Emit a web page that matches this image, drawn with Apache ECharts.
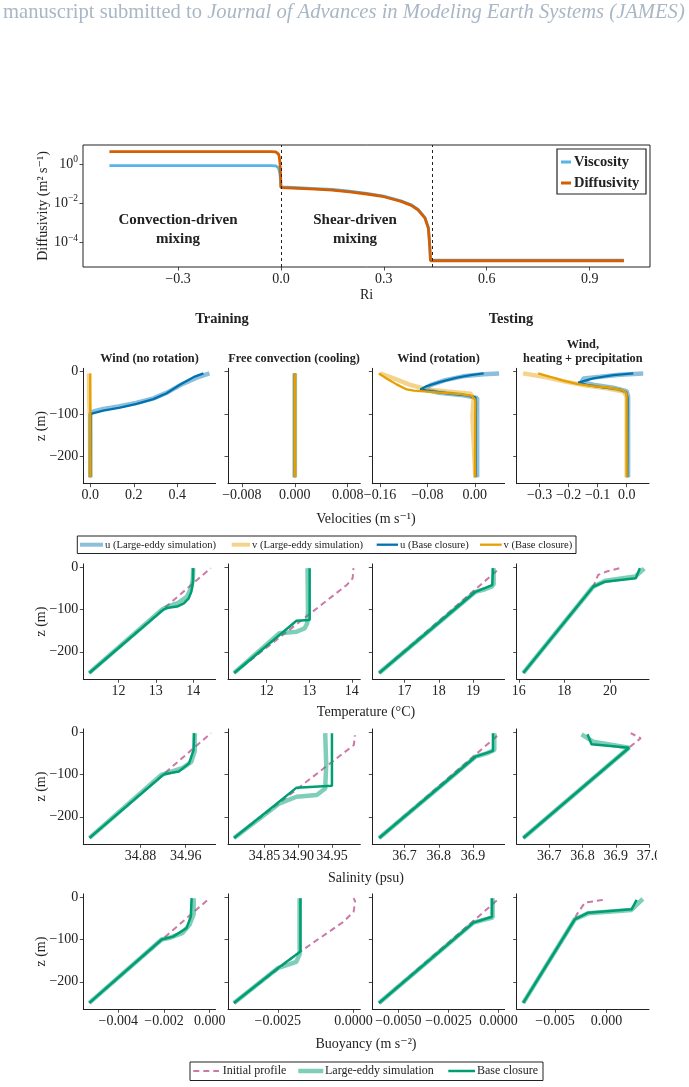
<!DOCTYPE html>
<html>
<head>
<meta charset="utf-8">
<script src="https://cdn.jsdelivr.net/npm/echarts@6/dist/echarts.min.js"></script>
<style>
html, body { margin: 0; padding: 0; background: #fff; }
#chart { width: 689px; height: 1087px; }
</style>
</head>
<body>
<div id="chart"></div>
<script>
// ---- top panel: viscosity / diffusivity vs Ri (log10 of m^2 s^-1) ----
const riConv = [-0.5, -0.03, -0.015, -0.01, -0.007, -0.005, -0.003, -0.0015, -0.0005, 0];
const viscConvLog = [-0.09, -0.09, -0.1, -0.13, -0.2, -0.3, -0.5, -0.8, -1.05, -1.18];
const diffConvLog = [0.63, 0.63, 0.62, 0.58, 0.5, 0.38, 0.1, -0.3, -0.8, -1.21];
const riShear = [0, 0.05, 0.1, 0.15, 0.2, 0.25, 0.3, 0.35, 0.38, 0.4, 0.42, 0.43, 0.434, 0.436, 1.0];
const viscShearLog = [-1.18, -1.22, -1.26, -1.31, -1.4, -1.51, -1.65, -1.89, -2.09, -2.33, -2.75, -3.27, -4.21, -4.93, -4.93];
const diffShearLog = [-1.21, -1.25, -1.29, -1.34, -1.43, -1.54, -1.68, -1.92, -2.12, -2.36, -2.78, -3.3, -4.24, -4.96, -4.96];
const regimeEdges = [0, 0.436];
const riTicks = [-0.3, 0, 0.3, 0.6, 0.9];
const diffTicks = [-4, -2, 0];

// ---- profile panels, one entry per column: [value, z] ----
const panelTitles = ['Wind (no rotation)', 'Free convection (cooling)', 'Wind (rotation)', 'Wind,\nheating + precipitation'];
const zTicks = [0, -100, -200];

const velULes = [
  [[0.548,-4],[0.5,-12],[0.42,-30],[0.355,-49],[0.29,-63],[0.21,-74],[0.13,-82],[0.06,-88],[0.015,-94],[0,-100],[0,-250]],
  [[0,-4],[0,-250]],
  [[0.041,-4],[0.015,-6],[-0.02,-11],[-0.05,-20],[-0.075,-32],[-0.085,-42],[-0.06,-50],[-0.02,-56],[0.004,-62],[0.004,-80],[0.004,-250]],
  [[0.057,-4],[-0.023,-7],[-0.092,-12],[-0.149,-16],[-0.155,-24],[-0.115,-31],[-0.046,-38],[0,-46],[0.005,-59],[0.005,-250]]
];
const velVLes = [
  [[-0.006,-4],[-0.005,-60],[-0.002,-100],[0,-250]],
  [[0,-4],[0,-250]],
  [[-0.16,-4],[-0.137,-16],[-0.109,-31],[-0.081,-42],[-0.047,-47],[-0.007,-52],[-0.002,-63],[-0.004,-106],[0.001,-250]],
  [[-0.357,-4],[-0.276,-13],[-0.207,-24],[-0.138,-33],[-0.069,-39],[-0.011,-47],[0,-59],[0,-250]]
];
const velUBase = [
  [[0.52,-4],[0.474,-13],[0.412,-31],[0.351,-51],[0.29,-65],[0.213,-76],[0.137,-85],[0.06,-92],[0.002,-100],[0,-250]],
  [[0,-4],[0,-250]],
  [[0.015,-4],[-0.007,-8],[-0.03,-14],[-0.058,-24],[-0.081,-34],[-0.092,-42],[-0.081,-45],[-0.047,-51],[-0.013,-56],[0.001,-61],[0.002,-71],[0.001,-250]],
  [[0.023,-4],[-0.046,-8],[-0.115,-16],[-0.167,-26],[-0.138,-31],[-0.081,-37],[-0.023,-42],[0,-50],[0.003,-63],[0.002,-250]]
];
const velVBase = [
  [[0,-4],[0,-250]],
  [[0,-4],[0,-250]],
  [[-0.162,-4],[-0.149,-16],[-0.132,-30],[-0.115,-42],[-0.103,-45],[-0.064,-49],[-0.024,-53],[-0.005,-57],[0.001,-67],[0,-250]],
  [[-0.305,-4],[-0.264,-12],[-0.219,-21],[-0.172,-29],[-0.115,-34],[-0.058,-38],[-0.017,-43],[0,-51],[0,-250]]
];
const velRange = [[-0.032, 0.576], [-0.0101, 0.0099], [-0.173, 0.0503], [-0.379, 0.077]];
const velTicks = [[0, 0.2, 0.4], [-0.008, 0, 0.008], [-0.16, -0.08, 0], [-0.3, -0.2, -0.1, 0]];
const velDecimals = [1, 3, 2, 1];

const tempInitial = [
  [[11.22,-250],[14.47,-2]],
  [[11.235,-250],[13.88,-42],[14.02,-26],[14.04,-2]],
  [[16.26,-250],[19.78,-2]],
  [[16.2,-250],[19.26,-46],[19.48,-18],[19.85,-10],[20.51,-1]]
];
const tempLes = [
  [[11.22,-250],[13.17,-100],[13.32,-93],[13.6,-84],[13.83,-70],[13.94,-50],[13.99,-30],[14.0,-2]],
  [[11.235,-250],[12.3,-156],[12.7,-152.6],[12.89,-144.6],[12.95,-133],[12.97,-101],[12.96,-2]],
  [[16.26,-250],[19.07,-58],[19.35,-52],[19.55,-45],[19.6,-40],[19.6,-2]],
  [[16.2,-250],[19.26,-46],[19.8,-32],[21.1,-22],[21.5,-3]]
];
const tempBase = [
  [[11.22,-250],[13.21,-99.5],[13.34,-95.6],[13.57,-93],[13.75,-85.3],[13.88,-73.4],[13.95,-57.8],[13.99,-37.9],[14.0,-2]],
  [[11.235,-250],[12.7,-126.5],[13.01,-125],[13.01,-2]],
  [[16.26,-250],[19.07,-58],[19.56,-42],[19.58,-40],[19.58,-2]],
  [[16.2,-250],[19.26,-46],[19.78,-34],[21.13,-26],[21.31,-2]]
];
const tempRange = [[11.06, 14.6], [11.09, 14.2], [16.06, 19.92], [15.91, 21.71]];
const tempTicks = [[12, 13, 14], [12, 13, 14], [17, 18, 19], [16, 18, 20]];
const tempDecimals = [0, 0, 0, 0];

const salInitial = [
  [[34.79,-250],[35.005,-2]],
  [[34.805,-250],[34.9825,-30],[34.984,-7]],
  [[36.626,-250],[36.978,-3]],
  [[36.622,-250],[36.94,-36.4],[36.975,-14],[36.945,-2]]
];
const salLes = [
  [[34.79,-250],[34.918,-100],[34.935,-93],[34.955,-84],[34.97,-70],[34.976,-45],[34.976,-2]],
  [[34.805,-250],[34.8725,-168],[34.8976,-152.6],[34.9275,-148.6],[34.94,-133],[34.9415,-77],[34.94,-2]],
  [[36.626,-250],[36.907,-57.7],[36.94,-50],[36.962,-42],[36.962,-2]],
  [[36.622,-250],[36.94,-36.4],[36.832,-22],[36.797,-5]]
];
const salBase = [
  [[34.79,-250],[34.9215,-99.5],[34.948,-93],[34.966,-73.5],[34.974,-42],[34.975,-2]],
  [[34.805,-250],[34.8976,-131],[34.95,-126.5],[34.95,-2]],
  [[36.626,-250],[36.907,-57.7],[36.958,-44],[36.958,-2]],
  [[36.622,-250],[36.94,-36.4],[36.827,-28.4],[36.815,-4.7]]
];
const salRange = [[34.779, 35.013], [34.796, 34.992], [36.606, 36.992], [36.602, 37.0]];
const salTicks = [[34.88, 34.96], [34.85, 34.9, 34.95], [36.7, 36.8, 36.9], [36.7, 36.8, 36.9, 37.0]];
const salDecimals = [2, 2, 1, 1];

const buoyInitial = [
  [[-0.005266,-250],[0,-2]],
  [[-0.003943,-250],[-0.001753,-128.4],[-0.000333,-57.8],[0,-34],[0.00005,-10],[0,-2]],
  [[-0.005965,-250],[0.00005,-2]],
  [[-0.008066,-250],[-0.00307,-52],[-0.0029,-41],[-0.0021,-12.6],[-0.00007,-5]]
];
const buoyLes = [
  [[-0.005266,-250],[-0.0021,-100],[-0.0017,-95],[-0.0012,-85],[-0.00088,-65],[-0.0007,-40],[-0.0007,-2]],
  [[-0.003943,-250],[-0.0025,-167.8],[-0.00189,-152.6],[-0.00178,-135],[-0.00178,-2]],
  [[-0.005965,-250],[-0.00125,-60],[-0.0008,-54],[-0.0003,-48],[-0.0003,-2]],
  [[-0.008066,-250],[-0.00307,-52],[-0.0018,-38],[0.0024,-30],[0.0035,-4]]
];
const buoyBase = [
  [[-0.005266,-250],[-0.0021,-100],[-0.0016,-93],[-0.00101,-73],[-0.000825,-45.5],[-0.00079,-2]],
  [[-0.003943,-250],[-0.0025,-167.8],[-0.001753,-128.4],[-0.001753,-2]],
  [[-0.005965,-250],[-0.00125,-60],[-0.00033,-46],[-0.00033,-2]],
  [[-0.008066,-250],[-0.00307,-52],[-0.00178,-36.4],[0.00242,-28.4],[0.0029,-6]]
];
const buoyRange = [[-0.00553, 0.00026], [-0.00414, 0.00022], [-0.0063, 0.0003], [-0.0087, 0.0041]];
const buoyTicks = [[-0.004, -0.002, 0], [-0.0025, 0], [-0.005, -0.0025, 0], [-0.005, 0]];
const buoyDecimals = [3, 4, 4, 3];

// ---- styling / layout ----
const FONT = '"Liberation Serif", "DejaVu Serif", serif';
const INK = '#222';
const HEADER = '#a9b7c5';
const colLeft = [83.3, 228, 372.3, 516.7];
const panelW = 132.3;
const rowZero = [371.7, 567.3, 732.3, 897.3];
const zMin = -265, zMax = 8, pxPerM = 0.4225;

const lineKinds = {
  uLes:  { color: 'rgba(0,114,178,0.45)', width: 4.5 },
  vLes:  { color: 'rgba(230,159,0,0.45)', width: 4.5 },
  uBase: { color: '#0072B2', width: 2.3 },
  vBase: { color: '#E69F00', width: 2.3 },
  init:  { color: '#CC79A7', width: 2, type: [6, 4] },
  les:   { color: 'rgba(0,158,115,0.5)', width: 4.5 },
  base:  { color: '#009E73', width: 2.5 }
};

function fmt(v, d) {
  if (Math.abs(v) < 1e-12) v = 0;
  const s = v.toFixed(d);
  return s.charAt(0) === '-' ? '\u2212' + s.slice(1) : s;
}

const grids = [], xAxes = [], yAxes = [], series = [];

// top panel
grids.push({ left: 83, top: 145, width: 567, height: 122, show: true, borderColor: INK, borderWidth: 1,
  backgroundColor: 'transparent', outerBoundsMode: 'none' });
xAxes.push({
  type: 'value', gridIndex: 0, min: -0.577, max: 1.076,
  axisLine: { show: false, onZero: false },
  axisTick: { show: true, customValues: riTicks, length: 3.5, lineStyle: { color: INK, width: 0.8 } },
  axisLabel: { customValues: riTicks, formatter: v => fmt(v, 1), margin: 5, color: INK, fontFamily: FONT, fontSize: 14 },
  splitLine: { show: false },
  name: 'Ri', nameLocation: 'middle', nameGap: 21, nameMoveOverlap: false,
  nameTextStyle: { fontFamily: FONT, fontSize: 14, color: INK }
});
yAxes.push({
  type: 'value', gridIndex: 0, min: -5.28, max: 0.97,
  axisLine: { show: false, onZero: false },
  axisTick: { show: true, customValues: diffTicks, length: 3.5, lineStyle: { color: INK, width: 0.8 } },
  axisLabel: {
    customValues: diffTicks, margin: 5,
    formatter: v => '{b|10}{s|' + (v === 0 ? '0' : '\u2212' + Math.abs(v)) + '}',
    rich: {
      b: { fontFamily: FONT, fontSize: 14, color: INK, lineHeight: 18 },
      s: { fontFamily: FONT, fontSize: 9.5, color: INK, verticalAlign: 'top', lineHeight: 10 }
    }
  },
  splitLine: { show: false },
  name: 'Diffusivity (m\u00b2 s\u207b\u00b9)', nameLocation: 'middle', nameGap: 33, nameMoveOverlap: false,
  nameTextStyle: { fontFamily: FONT, fontSize: 14, color: INK }
});
series.push({
  type: 'line', xAxisIndex: 0, yAxisIndex: 0, name: 'Viscosity', symbol: 'none', showSymbol: false,
  data: riConv.map((r, i) => [r, viscConvLog[i]]).concat(riShear.map((r, i) => [r, viscShearLog[i]])),
  lineStyle: { color: '#56B4E9', width: 2.8 }, silent: true
});
series.push({
  type: 'line', xAxisIndex: 0, yAxisIndex: 0, name: 'Diffusivity', symbol: 'none', showSymbol: false,
  data: riConv.map((r, i) => [r, diffConvLog[i]]).concat(riShear.map((r, i) => [r, diffShearLog[i]])),
  lineStyle: { color: '#D55E00', width: 2.8 }, silent: true,
  markLine: {
    silent: true, symbol: ['none', 'none'], label: { show: false },
    lineStyle: { color: INK, type: [3, 3], width: 1 },
    data: regimeEdges.map(r => ({ xAxis: r }))
  }
});

// profile rows
const rows = [
  { range: velRange, ticks: velTicks, dec: velDecimals,
    sets: [[velULes, 'uLes'], [velVLes, 'vLes'], [velUBase, 'uBase'], [velVBase, 'vBase']] },
  { range: tempRange, ticks: tempTicks, dec: tempDecimals,
    sets: [[tempInitial, 'init'], [tempLes, 'les'], [tempBase, 'base']] },
  { range: salRange, ticks: salTicks, dec: salDecimals,
    sets: [[salInitial, 'init'], [salLes, 'les'], [salBase, 'base']] },
  { range: buoyRange, ticks: buoyTicks, dec: buoyDecimals,
    sets: [[buoyInitial, 'init'], [buoyLes, 'les'], [buoyBase, 'base']] }
];

rows.forEach((row, r) => {
  for (let c = 0; c < 4; c++) {
    const gi = grids.length;
    grids.push({
      left: colLeft[c], top: rowZero[r] - zMax * pxPerM, width: panelW,
      height: (zMax - zMin) * pxPerM, outerBoundsMode: 'none'
    });
    const dec = row.dec[c];
    xAxes.push({
      type: 'value', gridIndex: gi, min: row.range[c][0], max: row.range[c][1],
      axisLine: { show: true, onZero: false, lineStyle: { color: INK, width: 1 } },
      axisTick: { show: true, customValues: row.ticks[c], length: 3.5, lineStyle: { color: INK, width: 0.8 } },
      axisLabel: { customValues: row.ticks[c], formatter: v => fmt(v, dec), margin: 5,
        color: INK, fontFamily: FONT, fontSize: 14 },
      splitLine: { show: false }
    });
    yAxes.push({
      type: 'value', gridIndex: gi, min: zMin, max: zMax,
      axisLine: { show: true, onZero: false, lineStyle: { color: INK, width: 1 } },
      axisTick: { show: true, customValues: zTicks, length: 3.5, lineStyle: { color: INK, width: 0.8 } },
      axisLabel: { show: c === 0, customValues: zTicks, formatter: v => fmt(v, 0), margin: 5,
        color: INK, fontFamily: FONT, fontSize: 14 },
      splitLine: { show: false },
      name: c === 0 ? 'z (m)' : '', nameLocation: 'middle', nameGap: 34.5, nameMoveOverlap: false,
      nameTextStyle: { fontFamily: FONT, fontSize: 14, color: INK }
    });
    row.sets.forEach(([profiles, kind]) => {
      const k = lineKinds[kind];
      series.push({
        type: 'line', xAxisIndex: gi, yAxisIndex: gi, symbol: 'none', showSymbol: false, silent: true,
        data: profiles[c],
        lineStyle: { color: k.color, width: k.width, type: k.type || 'solid' }
      });
    });
  }
});

// ---- text and legends ----
const graphic = [];
function txt(x, y, text, size, opts) {
  opts = opts || {};
  graphic.push({
    type: 'text', x: x, y: y, silent: true, z: 100,
    style: {
      text: text, fill: opts.fill || INK,
      font: (opts.italic ? 'italic ' : '') + (opts.bold ? 'bold ' : '') + size + 'px ' + FONT,
      textAlign: opts.align || 'center', textVerticalAlign: 'middle',
      align: opts.align || 'center', verticalAlign: 'middle'
    }
  });
}
function seg(x1, x2, y, style) {
  graphic.push({ type: 'line', silent: true, z: 100, shape: { x1: x1, y1: y, x2: x2, y2: y },
    style: { stroke: style.color, lineWidth: style.width, lineDash: style.type || null } });
}

graphic.push({
  type: 'text', x: 3, y: 13, silent: true,
  style: {
    text: '{a|manuscript submitted to }{b|Journal of Advances in Modeling Earth Systems (JAMES)}',
    fill: HEADER, verticalAlign: 'middle', textVerticalAlign: 'middle',
    rich: {
      a: { fontFamily: FONT, fontSize: 20.6, fill: HEADER, color: HEADER },
      b: { fontFamily: FONT, fontSize: 20.6, fill: HEADER, color: HEADER, fontStyle: 'italic' }
    }
  }
});

txt(178, 220, 'Convection-driven', 15, { bold: true });
txt(178, 239, 'mixing', 15, { bold: true });
txt(355, 220, 'Shear-driven', 15, { bold: true });
txt(355, 239, 'mixing', 15, { bold: true });

// top legend
graphic.push({ type: 'rect', silent: true, z: 99, shape: { x: 557, y: 149, width: 89, height: 45 },
  style: { fill: '#fff', stroke: INK, lineWidth: 1.2 } });
seg(561, 571, 162, { color: '#56B4E9', width: 3 });
seg(561, 571, 183, { color: '#D55E00', width: 3 });
txt(574, 162, 'Viscosity', 14.5, { bold: true, align: 'left' });
txt(574, 183, 'Diffusivity', 14.5, { bold: true, align: 'left' });

txt(222, 319, 'Training', 14.5, { bold: true });
txt(511, 319, 'Testing', 14.5, { bold: true });

panelTitles.forEach((t, c) => {
  const cx = colLeft[c] + panelW / 2;
  const lines = t.split('\n');
  lines.forEach((ln, i) => txt(cx, 359 - (lines.length - 1 - i) * 14, ln, 12.3, { bold: true }));
});

txt(366, 519, 'Velocities (m s\u207b\u00b9)', 14);
txt(366, 712, 'Temperature (\u00b0C)', 14);
txt(366, 878, 'Salinity (psu)', 14);
txt(366, 1044, 'Buoyancy (m s\u207b\u00b2)', 14);

// velocity legend
graphic.push({ type: 'rect', silent: true, z: 99, shape: { x: 77.3, y: 536, width: 498.7, height: 17.5 },
  style: { fill: '#fff', stroke: INK, lineWidth: 1 } });
const velLegend = [
  [80, 103, 105, 'u (Large-eddy simulation)', 'uLes'],
  [231.7, 250, 252, 'v (Large-eddy simulation)', 'vLes'],
  [376.7, 398, 400, 'u (Base closure)', 'uBase'],
  [480, 501.7, 503.5, 'v (Base closure)', 'vBase']
];
velLegend.forEach(([a, b, t, label, kind]) => {
  seg(a, b, 544.7, { color: lineKinds[kind].color, width: kind.indexOf('Les') > 0 ? 4 : 2.3 });
  txt(t, 545, label, 10.6, { align: 'left' });
});

// bottom legend
graphic.push({ type: 'rect', silent: true, z: 99, shape: { x: 190, y: 1062, width: 353, height: 18.5 },
  style: { fill: '#fff', stroke: INK, lineWidth: 1 } });
const profLegend = [
  [193.3, 219, 222.7, 'Initial profile', 'init'],
  [298.3, 323.3, 325, 'Large-eddy simulation', 'les'],
  [448.3, 475, 477, 'Base closure', 'base']
];
profLegend.forEach(([a, b, t, label, kind]) => {
  seg(a, b, 1071, lineKinds[kind]);
  txt(t, 1071, label, 12, { align: 'left' });
});

// figure edge clipping of the last salinity label
graphic.push({ type: 'rect', silent: true, z: 120, shape: { x: 657, y: 846, width: 32, height: 22 },
  style: { fill: '#fff' } });

const chart = echarts.init(document.getElementById('chart'), null, { renderer: 'canvas' });
chart.setOption({
  animation: false,
  backgroundColor: '#fff',
  grid: grids,
  xAxis: xAxes,
  yAxis: yAxes,
  series: series,
  graphic: { elements: graphic }
});
</script>
</body>
</html>
